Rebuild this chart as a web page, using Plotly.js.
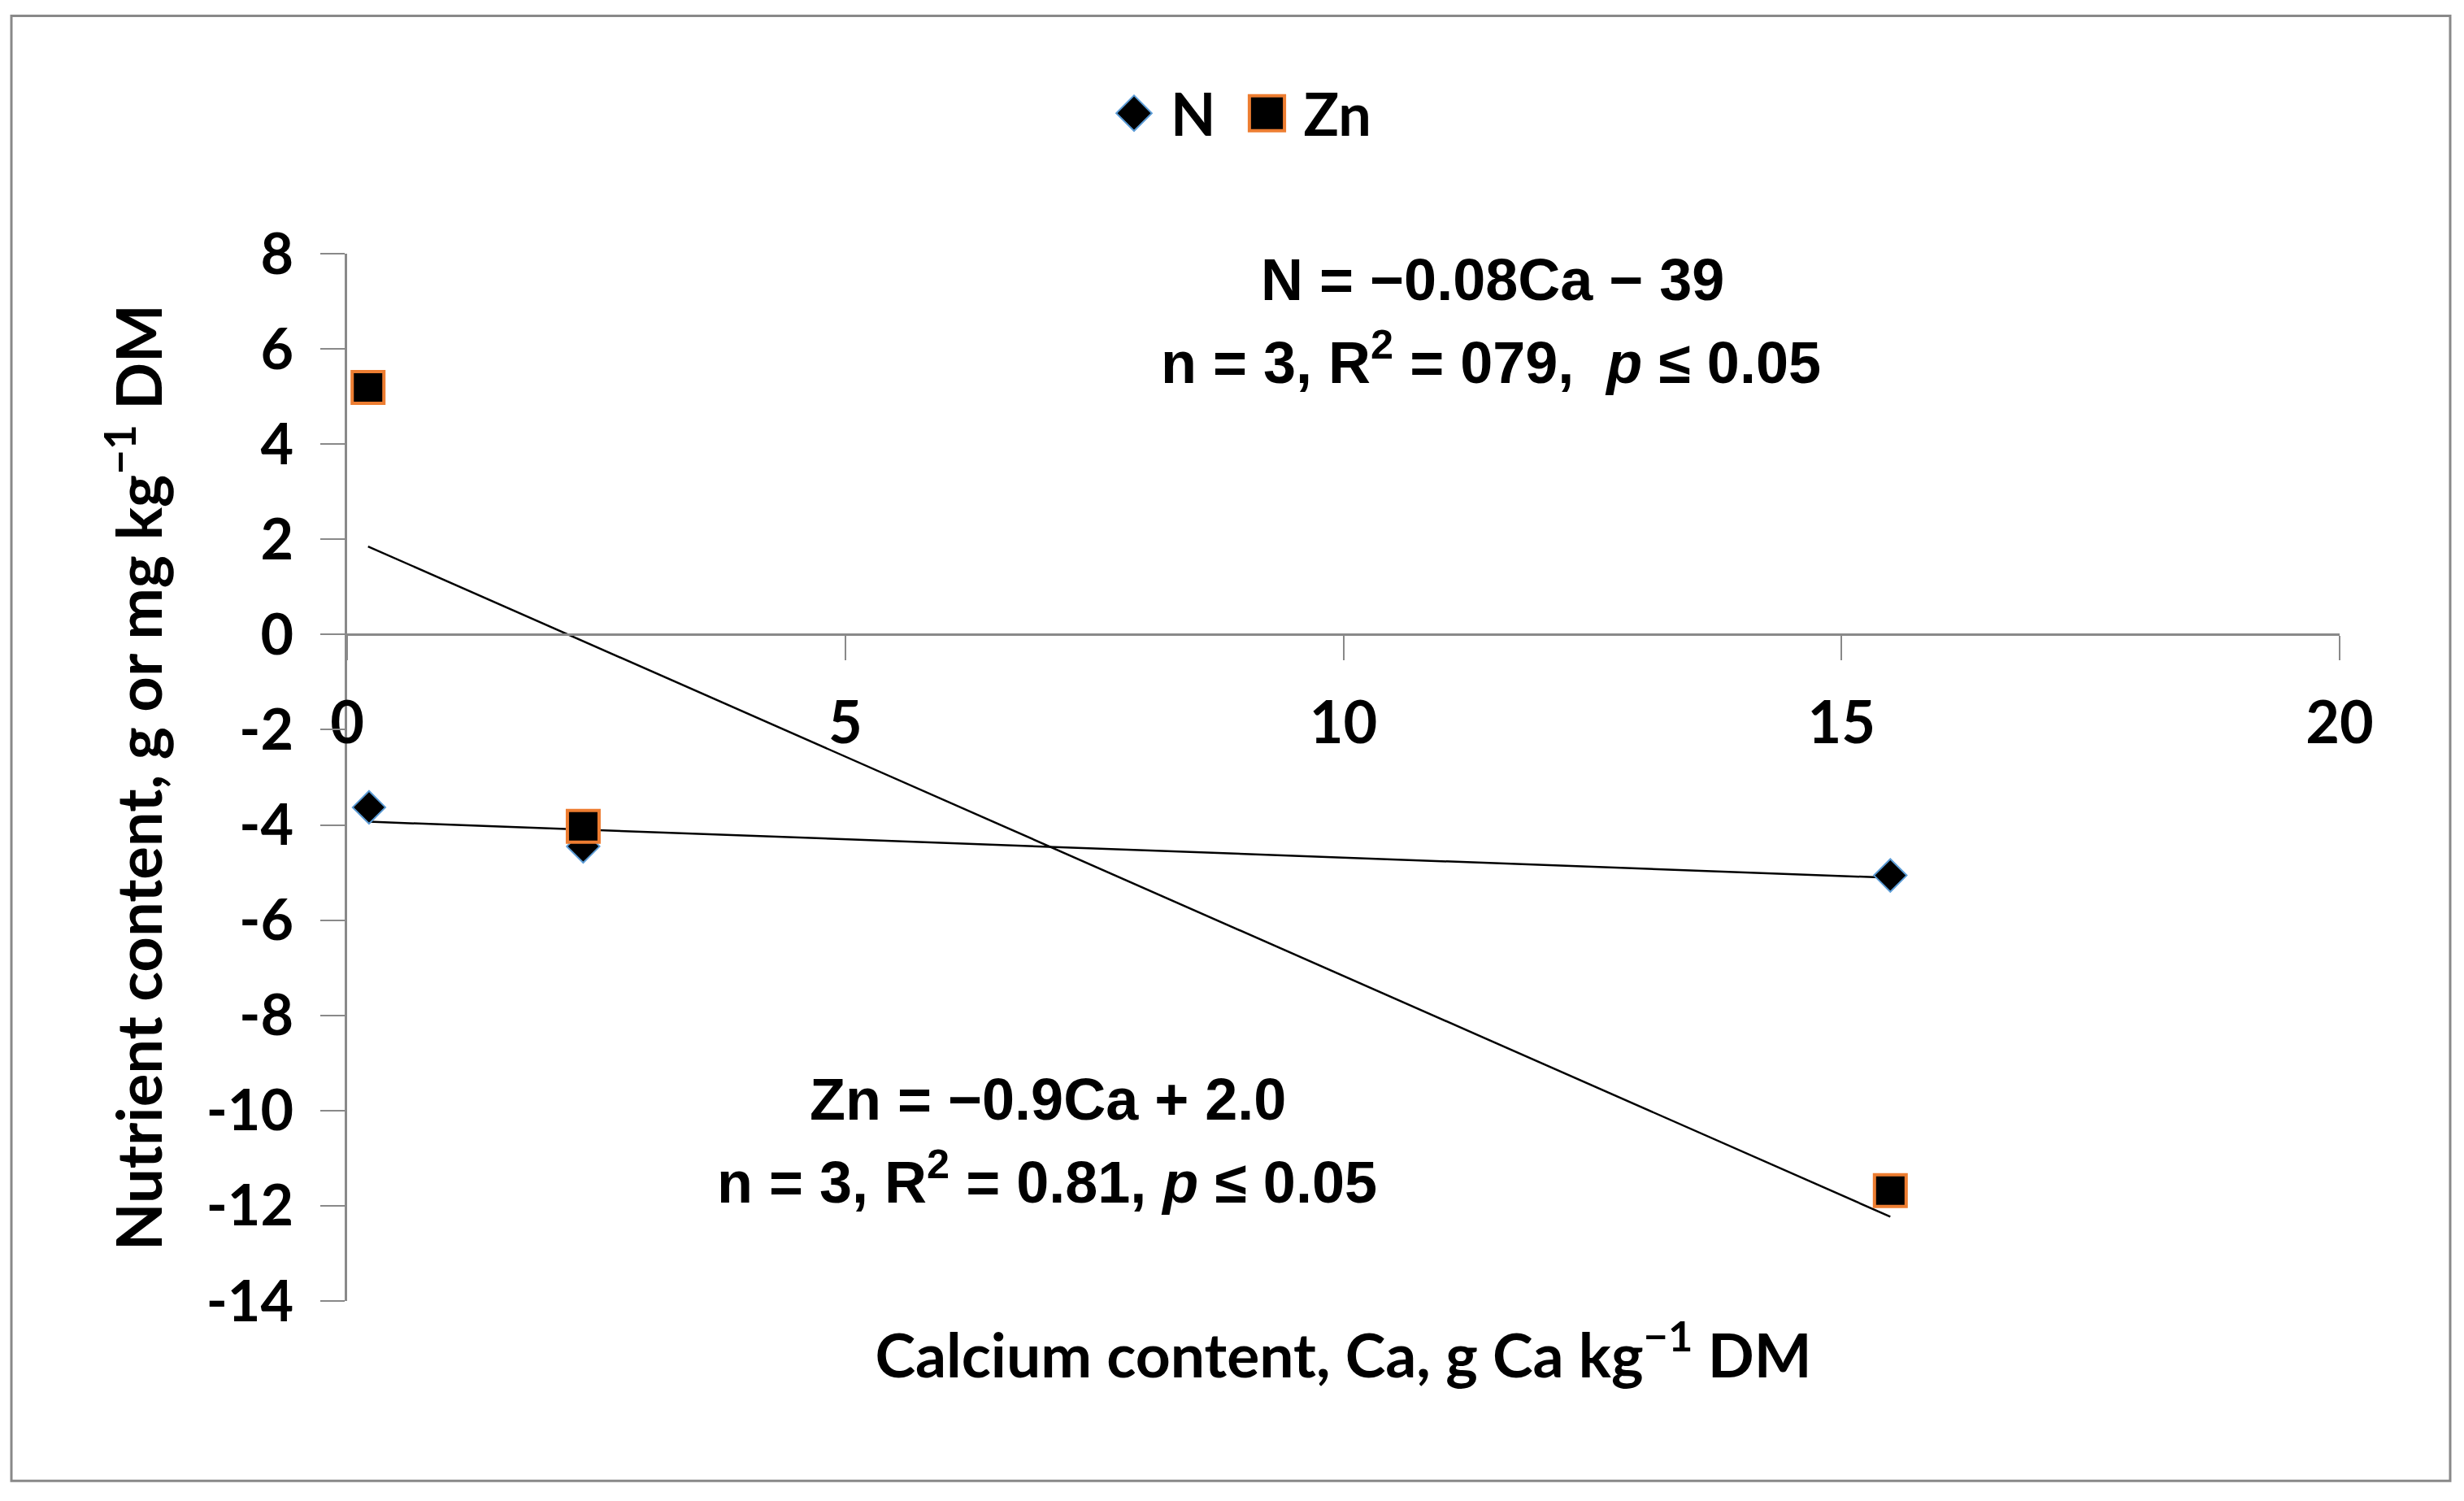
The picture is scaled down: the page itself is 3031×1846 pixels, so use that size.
<!DOCTYPE html>
<html><head><meta charset="utf-8">
<script src="https://cdn.plot.ly/plotly-3.0.1.min.js"></script>
<style>html,body{margin:0;padding:0;background:#fff}</style>
</head><body><div id="chart" style="width:3031px;height:1846px"></div>
<script>
// ---- data ----
const calciumN = [0.22, 2.37, 15.49];
const nitrogen = [-3.63, -4.45, -5.06];
const calciumZn = [0.21, 2.37, 15.49];
const zinc = [5.19, -4.03, -11.68];
const seriesNames = ['N', 'Zn'];
const xTickVals = [0, 5, 10, 15, 20];
const xTickText = ['0', '5', '10', '15', '20'];
const yTickVals = [-14, -12, -10, -8, -6, -4, -2, 0, 2, 4, 6, 8];
const yTickText = ['-14', '-12', '-10', '-8', '-6', '-4', '-2', '0', '2', '4', '6', '8'];
const xTitle = 'Calcium content, Ca, g Ca kg<sup>\u22121</sup> DM';
const yTitle = 'Nutrient content, g or mg kg<sup>\u22121</sup> DM';
const eqN = ['N = \u22120.08Ca \u2212 39', 'n = 3, R<sup>2</sup> = 079,\u00a0 <i>p</i> \u2264 0.05'];
const eqZn = ['Zn = \u22120.9Ca + 2.0', 'n = 3, R<sup>2</sup> = 0.81, <i>p</i> \u2264 0.05'];

// least-squares trendline drawn over the data span
function trend(x, y) {
  const n = x.length;
  const mx = x.reduce((a, b) => a + b, 0) / n;
  const my = y.reduce((a, b) => a + b, 0) / n;
  let sxy = 0, sxx = 0;
  for (let i = 0; i < n; i++) { sxy += (x[i] - mx) * (y[i] - my); sxx += (x[i] - mx) ** 2; }
  const b = sxy / sxx, a = my - b * mx;
  const x0 = Math.min(...x), x1 = Math.max(...x);
  return { x: [x0, x1], y: [a + b * x0, a + b * x1] };
}

const W = 3031, H = 1846, L = 427, R = 2878, T = 311.6, B = 1599.8;
const px = v => (v - L) / (R - L);
const py = v => (B - v) / (B - T);
const grey = '#898989';
const bold = { family: 'Lato, "Liberation Sans", sans-serif', color: '#000', weight: 700 };
const annFont = { family: '"Liberation Sans", Arial, sans-serif', color: '#000', weight: 700, size: 72 };

const tN = trend(calciumN, nitrogen);
const tZn = trend(calciumZn, zinc);

const data = [
  { x: tN.x, y: tN.y, mode: 'lines', line: { color: '#000', width: 2.5 }, showlegend: false, hoverinfo: 'skip' },
  { x: tZn.x, y: tZn.y, mode: 'lines', line: { color: '#000', width: 2.5 }, showlegend: false, hoverinfo: 'skip' },
  { x: calciumN, y: nitrogen, name: seriesNames[0], mode: 'markers', type: 'scatter',
    marker: { symbol: 'diamond', size: 31, color: '#000', line: { color: '#5B9BD5', width: 2 } } },
  { x: calciumZn, y: zinc, name: seriesNames[1], mode: 'markers', type: 'scatter',
    marker: { symbol: 'square', size: 39, color: '#000', line: { color: '#ED7D31', width: 4 } } }
];

const layout = {
  width: W, height: H,
  margin: { l: L, r: W - R, t: T, b: H - B, autoexpand: false },
  paper_bgcolor: '#fff', plot_bgcolor: 'rgba(0,0,0,0)',
  font: bold,
  xaxis: {
    range: [0, 20], tickvals: xTickVals, ticktext: xTickText,
    anchor: 'free', position: 14 / 22,
    showline: true, linecolor: grey, linewidth: 3,
    ticks: 'outside', ticklen: 30, tickwidth: 2, tickcolor: grey,
    showgrid: false, zeroline: false,
    tickfont: Object.assign({}, bold, { size: 72 }), ticklabelstandoff: 15,
    title: { text: xTitle, font: Object.assign({}, bold, { size: 75 }), standoff: 713 }
  },
  yaxis: {
    range: [-14, 8], tickvals: yTickVals, ticktext: yTickText,
    showline: true, linecolor: grey, linewidth: 3,
    ticks: 'outside', ticklen: 30, tickwidth: 2, tickcolor: grey,
    showgrid: false, zeroline: false,
    tickfont: Object.assign({}, bold, { size: 70 }), ticklabelstandoff: 19,
    title: { text: yTitle, font: Object.assign({}, bold, { size: 76 }), standoff: 30 }
  },
  legend: {
    orientation: 'h', x: px(1350), xanchor: 'left', y: py(139), yanchor: 'middle',
    font: Object.assign({}, bold, { size: 72 }), bgcolor: 'rgba(0,0,0,0)', itemwidth: 80
  },
  shapes: [
    { type: 'rect', xref: 'paper', yref: 'paper', x0: px(14), x1: px(3014), y0: py(19), y1: py(1821),
      line: { color: grey, width: 3 }, fillcolor: 'rgba(0,0,0,0)', layer: 'below' }
  ],
  annotations: [
    { xref: 'paper', yref: 'paper', x: px(1836), y: py(344), text: eqN[0], showarrow: false, xanchor: 'center', yanchor: 'middle', font: annFont },
    { xref: 'paper', yref: 'paper', x: px(1834), y: py(440), text: eqN[1], showarrow: false, xanchor: 'center', yanchor: 'middle', font: annFont },
    { xref: 'paper', yref: 'paper', x: px(1289), y: py(1352), text: eqZn[0], showarrow: false, xanchor: 'center', yanchor: 'middle', font: annFont },
    { xref: 'paper', yref: 'paper', x: px(1288), y: py(1448), text: eqZn[1], showarrow: false, xanchor: 'center', yanchor: 'middle', font: annFont }
  ]
};

Plotly.newPlot('chart', data, layout, { staticPlot: true, displayModeBar: false }).then(gd => {
  // let the legend items extend past Plotly's legend clip box
  gd.querySelectorAll('.legend [clip-path]').forEach(el => el.removeAttribute('clip-path'));
  // enlarge legend symbols (Plotly caps them at 16px) and widen entry gap to match the reference
  const spec = { N: { k: 2.1, lw: 2, dx: 0 }, Zn: { k: 2.7, lw: 4, dx: 13 } };
  gd.querySelectorAll('.legend .traces').forEach(g => {
    const t = g.querySelector('.legendtext');
    const s = t && spec[t.textContent.trim()];
    if (!s) return;
    g.querySelectorAll('.legendpoints path.scatterpts').forEach(p => {
      const tr = p.getAttribute('transform') || '';
      p.setAttribute('transform', tr + ' scale(' + s.k + ')');
      p.style.strokeWidth = (s.lw / s.k) + 'px';
    });
    if (s.dx) {
      const tr = g.getAttribute('transform') || '';
      g.setAttribute('transform', 'translate(' + s.dx + ',0) ' + tr);
    }
  });
});
</script></body></html>
